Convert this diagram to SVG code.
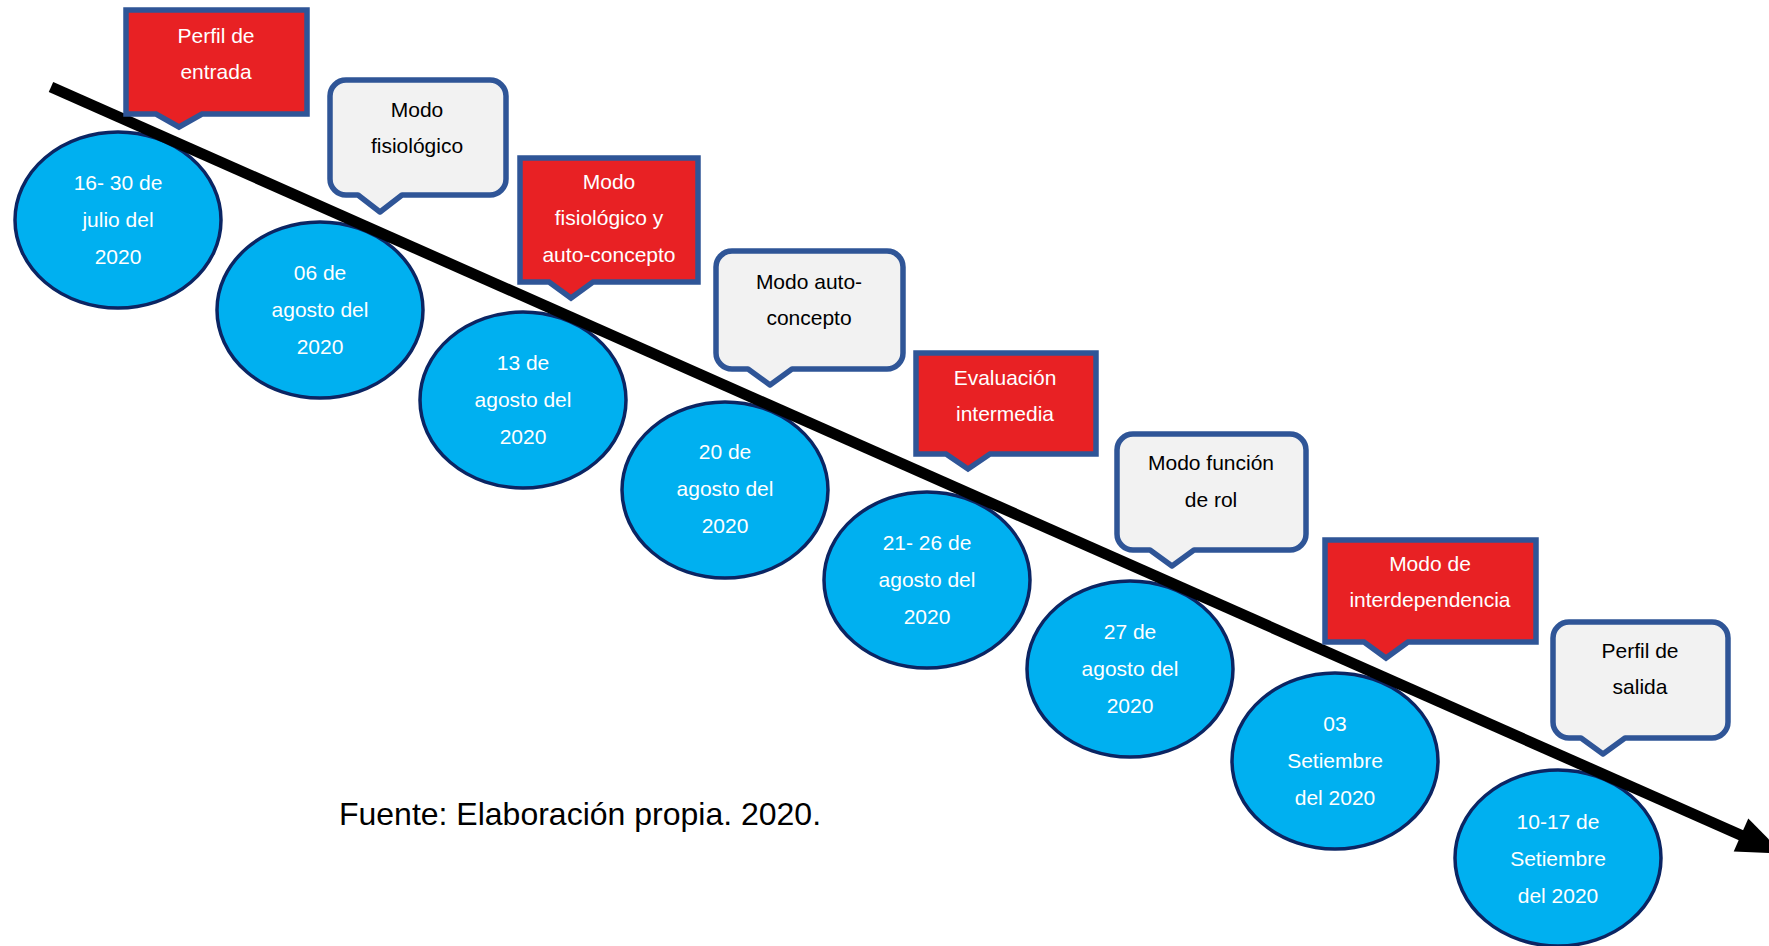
<svg xmlns="http://www.w3.org/2000/svg" width="1769" height="946" viewBox="0 0 1769 946">
  <style>
    .date ellipse { fill: #00B0F0; stroke: #0B2563; stroke-width: 3.5; }
    .date text { fill: #FFFFFF; }
    .txt { font-family: "Liberation Sans", Arial, sans-serif; font-size: 21px; text-anchor: middle; }
    .red path { fill: #E82124; stroke: #2F5597; stroke-width: 5.5; stroke-linejoin: miter; }
    .red text { fill: #FFFFFF; }
    .gray path { fill: #F2F2F2; stroke: #2F5597; stroke-width: 5.5; stroke-linejoin: round; }
    .gray text { fill: #000000; }
    .caption { font-family: "Liberation Sans", Arial, sans-serif; font-size: 32px; fill: #000000; text-anchor: middle; }
  </style>

  <!-- date ellipses -->
  <g id="date-1" class="date txt">
    <ellipse cx="118" cy="220" rx="103" ry="88"/>
    <text x="118" y="190">16- 30 de</text>
    <text x="118" y="227">julio del</text>
    <text x="118" y="264">2020</text>
  </g>
  <g id="date-2" class="date txt">
    <ellipse cx="320" cy="310" rx="103" ry="88"/>
    <text x="320" y="280">06 de</text>
    <text x="320" y="317">agosto del</text>
    <text x="320" y="354">2020</text>
  </g>
  <g id="date-3" class="date txt">
    <ellipse cx="523" cy="400" rx="103" ry="88"/>
    <text x="523" y="370">13 de</text>
    <text x="523" y="407">agosto del</text>
    <text x="523" y="444">2020</text>
  </g>
  <g id="date-4" class="date txt">
    <ellipse cx="725" cy="490" rx="103" ry="88"/>
    <text x="725" y="459">20 de</text>
    <text x="725" y="496">agosto del</text>
    <text x="725" y="533">2020</text>
  </g>
  <g id="date-5" class="date txt">
    <ellipse cx="927" cy="580" rx="103" ry="88"/>
    <text x="927" y="550">21- 26 de</text>
    <text x="927" y="587">agosto del</text>
    <text x="927" y="624">2020</text>
  </g>
  <g id="date-6" class="date txt">
    <ellipse cx="1130" cy="669" rx="103" ry="88"/>
    <text x="1130" y="639">27 de</text>
    <text x="1130" y="676">agosto del</text>
    <text x="1130" y="713">2020</text>
  </g>
  <g id="date-7" class="date txt">
    <ellipse cx="1335" cy="761" rx="103" ry="88"/>
    <text x="1335" y="731">03</text>
    <text x="1335" y="768">Setiembre</text>
    <text x="1335" y="805">del 2020</text>
  </g>
  <g id="date-8" class="date txt">
    <ellipse cx="1558" cy="858" rx="103" ry="88"/>
    <text x="1558" y="829">10-17 de</text>
    <text x="1558" y="866">Setiembre</text>
    <text x="1558" y="903">del 2020</text>
  </g>

  <!-- timeline arrow -->
  <g id="connectors">
    <line x1="51" y1="87" x2="1745" y2="837" stroke="#000000" stroke-width="11"/>
    <polygon points="1733.7,851.5 1748.3,818.5 1783,853.6" fill="#000000"/>
  </g>

  <!-- callouts: red = evaluation stages, gray = adaptive modes -->
  <g id="stage-1" class="red txt">
    <path d="M126,10 H307 V114 H202 L179,127 L156,114 H126 Z"/>
    <text x="216" y="43">Perfil de</text>
    <text x="216" y="79">entrada</text>
  </g>
  <g id="mode-1" class="gray txt">
    <path d="M346,80 H490 A16,16 0 0 1 506,96 V179 A16,16 0 0 1 490,195 H402 L380,212 L358,195 H346 A16,16 0 0 1 330,179 V96 A16,16 0 0 1 346,80 Z"/>
    <text x="417" y="117">Modo</text>
    <text x="417" y="153">fisiológico</text>
  </g>
  <g id="stage-2" class="red txt">
    <path d="M520,158 H698 V282 H593 L571,298 L549,282 H520 Z"/>
    <text x="609" y="189">Modo</text>
    <text x="609" y="225">fisiológico y</text>
    <text x="609" y="262">auto-concepto</text>
  </g>
  <g id="mode-2" class="gray txt">
    <path d="M732,251 H887 A16,16 0 0 1 903,267 V353 A16,16 0 0 1 887,369 H792 L770,385 L748,369 H732 A16,16 0 0 1 716,353 V267 A16,16 0 0 1 732,251 Z"/>
    <text x="809" y="289">Modo auto-</text>
    <text x="809" y="325">concepto</text>
  </g>
  <g id="stage-3" class="red txt">
    <path d="M916,353 H1096 V454 H990 L968,469 L946,454 H916 Z"/>
    <text x="1005" y="385">Evaluación</text>
    <text x="1005" y="421">intermedia</text>
  </g>
  <g id="mode-3" class="gray txt">
    <path d="M1133,434 H1290 A16,16 0 0 1 1306,450 V534 A16,16 0 0 1 1290,550 H1194 L1172,566 L1150,550 H1133 A16,16 0 0 1 1117,534 V450 A16,16 0 0 1 1133,434 Z"/>
    <text x="1211" y="470">Modo función</text>
    <text x="1211" y="507">de rol</text>
  </g>
  <g id="stage-4" class="red txt">
    <path d="M1325,540 H1536 V642 H1408 L1386,658 L1364,642 H1325 Z"/>
    <text x="1430" y="571">Modo de</text>
    <text x="1430" y="607">interdependencia</text>
  </g>
  <g id="mode-4" class="gray txt">
    <path d="M1569,622 H1712 A16,16 0 0 1 1728,638 V722 A16,16 0 0 1 1712,738 H1625 L1603,754 L1581,738 H1569 A16,16 0 0 1 1553,722 V638 A16,16 0 0 1 1569,622 Z"/>
    <text x="1640" y="658">Perfil de</text>
    <text x="1640" y="694">salida</text>
  </g>

  <text class="caption" x="580" y="825">Fuente: Elaboración propia. 2020.</text>
</svg>
